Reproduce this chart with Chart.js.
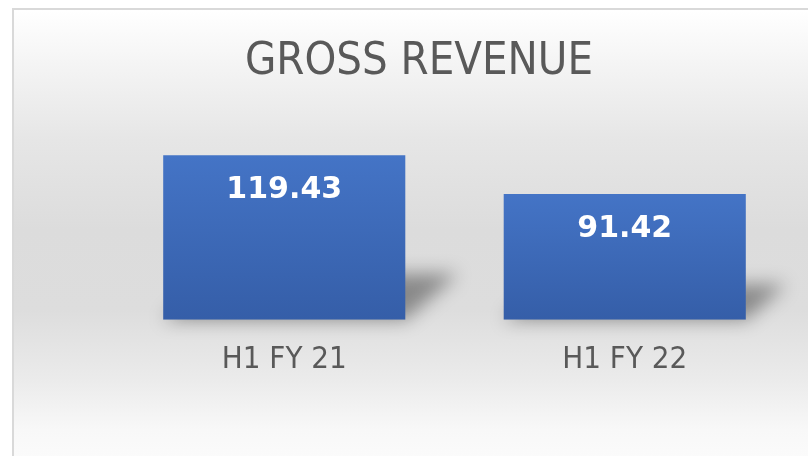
<!DOCTYPE html>
<html>
<head>
<meta charset="utf-8">
<script src="https://cdn.jsdelivr.net/npm/chart.js@4"></script>
<style>
  html, body { margin: 0; padding: 0; background: #fff; }
  #wrap { position: relative; width: 808px; height: 456px; overflow: hidden; }
  #frame {
    position: absolute; left: 12px; top: 8px; width: 820px; height: 470px;
    border: 2px solid #d9d9d9; box-sizing: border-box;
    background: linear-gradient(to bottom, #ffffff 0px, #f3f3f3 60px, #e6e6e6 130px, #dcdcdc 220px, #dddddd 300px, #ebebeb 370px, #f8f8f8 420px, #fdfdfd 470px);
  }
  canvas { position: absolute; left: 0; top: 0; }
</style>
</head>
<body>
<div id="wrap">
  <div id="frame"></div>
  <canvas id="chart" width="808" height="456"></canvas>
</div>
<script>
// data
const categories = ['H1 FY 21', 'H1 FY 22'];
const revenue = [119.43, 91.42];
const chartTitle = 'GROSS REVENUE';

const narrow = "'Liberation Sans Narrow', 'DejaVu Sans Condensed', 'Arial Narrow', 'Liberation Sans', sans-serif";

// skewed soft shadow behind each bar
const barShadow = {
    id: 'barShadow',
    beforeDatasetsDraw(chart) {
        const ctx = chart.ctx;
        chart.getDatasetMeta(0).data.forEach(bar => {
            const left = bar.x - bar.width / 2;
            const right = bar.x + bar.width / 2;
            const h = bar.base - bar.y;
            const dx = h * 0.32, sh = h * 0.28;
            ctx.save();
            ctx.filter = 'blur(9px)';
            ctx.fillStyle = 'rgba(0,0,0,0.38)';
            ctx.beginPath();
            ctx.moveTo(left, bar.base);
            ctx.lineTo(right, bar.base);
            ctx.lineTo(right + dx, bar.base - sh);
            ctx.lineTo(left + dx, bar.base - sh);
            ctx.closePath();
            ctx.fill();
            ctx.restore();
        });
    }
};

// value labels inside the bars
const barLabels = {
    id: 'barLabels',
    afterDatasetsDraw(chart) {
        const ctx = chart.ctx;
        const ds = chart.data.datasets[0];
        ctx.save();
        ctx.font = "bold 30px 'DejaVu Sans', sans-serif";
        ctx.fillStyle = '#ffffff';
        ctx.textAlign = 'center';
        ctx.textBaseline = 'middle';
        chart.getDatasetMeta(0).data.forEach((bar, i) => {
            ctx.fillText(ds.data[i].toFixed(2), bar.x, bar.y + 35);
        });
        ctx.restore();
    }
};

const ctx = document.getElementById('chart').getContext('2d');
const myChart = new Chart(ctx, {
    type: 'bar',
    data: {
        labels: categories,
        datasets: [{
            data: revenue,
            backgroundColor: (c) => {
                const chart = c.chart;
                if (!chart.chartArea || c.raw === undefined) return '#4472c4';
                const top = chart.scales.y.getPixelForValue(c.raw);
                const bot = chart.scales.y.getPixelForValue(0);
                const g = chart.ctx.createLinearGradient(0, top, 0, bot);
                g.addColorStop(0, '#4474c6');
                g.addColorStop(1, '#355ea8');
                return g;
            },
            borderWidth: 0,
            categoryPercentage: 1,
            barPercentage: 0.711
        }]
    },
    options: {
        responsive: false,
        animation: false,
        layout: { padding: { left: 43, right: 13, top: 0, bottom: 63 } },
        plugins: {
            legend: { display: false },
            tooltip: { enabled: false },
            title: {
                display: true,
                text: chartTitle,
                color: '#595959',
                font: { family: narrow, size: 45, weight: 'normal', lineHeight: 1.2 },
                padding: { top: 35, bottom: 38 }
            }
        },
        scales: {
            x: {
                grid: { display: false },
                border: { display: false },
                ticks: { color: '#595959', font: { family: narrow, size: 31 }, padding: 14 }
            },
            y: {
                min: 0,
                max: 140,
                grid: { display: false },
                border: { display: false },
                ticks: { display: false },
                afterFit: (s) => { s.width = 71; }
            }
        }
    },
    plugins: [barShadow, barLabels]
});
</script>
</body>
</html>
